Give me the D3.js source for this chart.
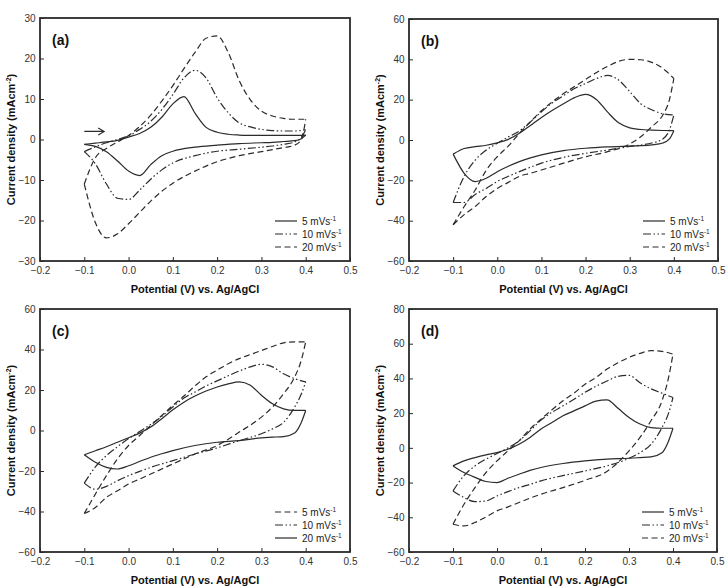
<!DOCTYPE html>
<html>
<head>
<meta charset="utf-8">
<script src="https://cdn.jsdelivr.net/npm/d3@7"></script>
<style>
  body { margin: 0; background: #fff; }
  svg { display: block; font-family: "Liberation Sans", Arial, sans-serif; }
</style>
</head>
<body>
<div id="chart"></div>
<script>
// potentials (V) of the forward and reverse sweeps
var E_FWD = [-0.1, -0.075, -0.05, -0.025, 0, 0.025, 0.05, 0.075, 0.1, 0.125, 0.15, 0.175, 0.2, 0.225, 0.25, 0.275, 0.3, 0.325, 0.35, 0.375, 0.4];
var E_REV = [0.4, 0.39, 0.375, 0.35, 0.325, 0.3, 0.25, 0.2, 0.15, 0.1, 0.075, 0.05, 0.025, 0, -0.025, -0.05, -0.075, -0.1];

// panel (a)
var a5Fwd  = [-1.2, -0.9, -0.6, -0.2, 0.6, 1.5, 3.0, 5.5, 8.8, 10.6, 6.5, 3.0, 1.8, 1.3, 1.1, 1.0, 1.0, 1.0, 1.0, 1.0, 1.1];
var a5Rev  = [1.1, 0.2, -0.3, -0.5, -0.7, -0.8, -1.0, -1.4, -1.9, -2.9, -4.0, -6.2, -8.9, -7.8, -5.3, -3.0, -1.7, -1.2];
var a10Fwd = [-3.0, -1.8, -0.8, 0.0, 0.9, 2.5, 4.5, 7.4, 11.1, 15.2, 17.1, 15.2, 10.3, 6.6, 4.1, 3.1, 2.5, 2.2, 2.1, 2.1, 2.4];
var a10Rev = [2.4, 0.5, -0.6, -1.2, -1.6, -1.9, -2.4, -2.9, -4.0, -5.8, -7.5, -9.8, -12.5, -14.8, -14.5, -11.0, -6.0, -3.0];
var a20Fwd = [-11.0, -4.5, -2.2, -0.6, 1.0, 3.2, 6.0, 9.5, 13.3, 17.5, 21.5, 25.0, 25.6, 21.5, 14.5, 9.8, 7.0, 5.8, 5.2, 5.0, 5.0];
var a20Rev = [5.0, 0.0, -1.4, -2.0, -2.5, -3.0, -4.0, -5.5, -7.8, -10.8, -12.8, -15.2, -18.0, -20.8, -23.3, -24.3, -20.5, -11.0];

// panel (b)
var b5Fwd  = [-7.0, -4.2, -3.3, -2.6, -1.4, 0.3, 3.3, 7.2, 11.2, 14.8, 18.0, 21.0, 22.6, 20.0, 13.8, 8.5, 6.0, 5.2, 4.9, 4.7, 4.6];
var b5Rev  = [4.6, 0.5, -1.5, -2.4, -2.8, -3.0, -3.4, -4.1, -5.3, -7.4, -8.9, -10.7, -13.0, -15.7, -19.0, -20.6, -16.5, -7.0];
var b10Fwd = [-31, -18, -10, -5, -1.6, 1.5, 4.5, 9, 14, 18.5, 22, 25.5, 28, 30.5, 32, 29.7, 24, 18, 15, 13, 12.4];
var b10Rev = [12.4, 5, 0.5, -1.5, -2.5, -3.2, -5.0, -6.6, -8.6, -11.5, -13.5, -15.7, -18, -20.6, -24, -27, -31, -31];
var b20Fwd = [-42, -33, -24.8, -15, -8.3, -3.0, 3.3, 9, 14.5, 19, 23, 26.5, 30, 33.5, 36.5, 39, 40, 39.8, 38.5, 35.5, 30.5];
var b20Rev = [30.5, 20, 12.4, 6.6, 1.6, -2.0, -5.8, -8.3, -11.5, -14.9, -16.5, -18, -21, -24, -28, -33, -37, -42];

// panel (c)
var c20Fwd = [-12, -10, -8, -5.8, -3.6, -1.3, 1.7, 5.8, 10.2, 14, 17, 19.5, 21.5, 23, 24, 22.3, 17.4, 13.2, 10.7, 9.9, 9.9];
var c20Rev = [9.9, 4, -1.2, -3, -3.3, -3.6, -5, -5.8, -7.4, -9.9, -11.5, -13.2, -15.3, -17.4, -19, -18.2, -15.7, -12];
var c10Fwd = [-26, -18, -12.4, -8, -4, -0.5, 3, 7, 11.6, 16, 19, 22, 24.5, 27, 29.4, 31.4, 32.7, 31.4, 28, 25.6, 24];
var c10Rev = [24, 18, 11.6, 4, 0.8, -1.6, -5, -8.6, -11.6, -14.9, -16.5, -18.2, -20.2, -22.3, -24.8, -27.6, -29, -26];
var c5Fwd  = [-41, -31.4, -22.3, -14, -7.4, -2.5, 2.5, 7.4, 12.4, 17, 22, 26.5, 29.8, 33, 35.5, 37.5, 39.5, 41.5, 43.3, 43.8, 43.8];
var c5Rev  = [43.8, 34.7, 26.4, 18.2, 11.6, 6.6, -0.8, -7.4, -11.6, -16.5, -19, -21.5, -24, -26.4, -29.8, -33, -38, -41];

// panel (d)
var d5Fwd  = [-10.4, -7.5, -5.6, -4, -2.7, -0.8, 2.1, 6, 10.8, 14.6, 18.5, 21.3, 24.2, 26.9, 27.6, 22.8, 17.5, 13.7, 11.7, 11.3, 11.3];
var d5Rev  = [11.3, 4, -2.8, -5.2, -5.6, -6, -6.5, -7.5, -9, -11.3, -13, -15.2, -17.5, -20, -19.4, -17, -14.2, -10.4];
var d10Fwd = [-24.8, -16, -10.4, -6.5, -3.3, 0, 4, 9.8, 16, 20.5, 24.2, 28, 32, 35.5, 38.5, 41.2, 41.8, 37.5, 34, 31.5, 29];
var d10Rev = [29, 20, 11.7, 2, -2.7, -6, -10.4, -13.3, -16, -19, -21, -22.9, -25.2, -27.7, -30.6, -31, -28.7, -24.8];
var d20Fwd = [-44, -32.5, -22.9, -14.2, -7.5, -1.7, 4, 10.8, 16.5, 22, 27.1, 31.5, 36.7, 40.5, 45.4, 49, 52.1, 54.4, 56, 55.6, 54];
var d20Rev = [54, 40.6, 27.1, 15.6, 6, -1.7, -13.6, -18.7, -22.9, -26.7, -29, -31.5, -34, -36.3, -39.8, -43, -45, -44];

var X_TICKS = [-0.2, -0.1, 0.0, 0.1, 0.2, 0.3, 0.4, 0.5];
var Y_TICKS_A = [-30, -20, -10, 0, 10, 20, 30];
var Y_TICKS_BC = [-60, -40, -20, 0, 20, 40, 60];
var Y_TICKS_D = [-60, -40, -20, 0, 20, 40, 60, 80];

var DASH = { solid: null, dashdot: "8,2.5,1.5,2.5,1.5,2.5", dash: "6,3.5" };
var INK = "#2b2b2b";

var panels = [
  { label: "(a)", left: 40, top: 18, w: 310, h: 243, y: [-30, 30], yt: Y_TICKS_A, arrow: true,
    series: [
      { name: "5", style: "solid", f: a5Fwd, r: a5Rev },
      { name: "10", style: "dashdot", f: a10Fwd, r: a10Rev },
      { name: "20", style: "dash", f: a20Fwd, r: a20Rev }] },
  { label: "(b)", left: 409, top: 19, w: 309, h: 242, y: [-60, 60], yt: Y_TICKS_BC,
    series: [
      { name: "5", style: "solid", f: b5Fwd, r: b5Rev },
      { name: "10", style: "dashdot", f: b10Fwd, r: b10Rev },
      { name: "20", style: "dash", f: b20Fwd, r: b20Rev }] },
  { label: "(c)", left: 40, top: 309, w: 310, h: 243, y: [-60, 60], yt: Y_TICKS_BC,
    series: [
      { name: "5", style: "dash", f: c5Fwd, r: c5Rev },
      { name: "10", style: "dashdot", f: c10Fwd, r: c10Rev },
      { name: "20", style: "solid", f: c20Fwd, r: c20Rev }] },
  { label: "(d)", left: 409, top: 309, w: 308, h: 243, y: [-60, 80], yt: Y_TICKS_D,
    series: [
      { name: "5", style: "solid", f: d5Fwd, r: d5Rev },
      { name: "10", style: "dashdot", f: d10Fwd, r: d10Rev },
      { name: "20", style: "dash", f: d20Fwd, r: d20Rev }] }
];

var svg = d3.select("#chart").append("svg")
    .attr("width", 727)
    .attr("height", 588);

panels.forEach(function(p) {
    var g = svg.append("g").attr("transform", "translate(" + p.left + "," + p.top + ")");
    var x = d3.scaleLinear().domain([-0.2, 0.5]).range([0, p.w]);
    var y = d3.scaleLinear().domain(p.y).range([p.h, 0]);

    // axes with inward ticks
    var xa = g.append("g")
        .attr("transform", "translate(0," + p.h + ")")
        .call(d3.axisBottom(x).tickValues(X_TICKS).tickFormat(d3.format(".1f")).tickSizeInner(-4).tickSizeOuter(0).tickPadding(6));
    var ya = g.append("g")
        .call(d3.axisLeft(y).tickValues(p.yt).tickFormat(d3.format("d")).tickSizeInner(-4).tickSizeOuter(0).tickPadding(4.5));
    [xa, ya].forEach(function(a) {
        a.select(".domain").remove();
        a.selectAll("line").attr("stroke", INK);
        a.selectAll("text").attr("fill", "#333").style("font-size", "10px")
            .style("font-family", "'Liberation Sans', Arial, sans-serif");
    });

    g.append("rect")
        .attr("width", p.w).attr("height", p.h)
        .attr("fill", "none").attr("stroke", INK).attr("stroke-width", 1.8);

    var line = d3.line()
        .curve(d3.curveMonotoneX)
        .x(function(d) { return x(d[0]); })
        .y(function(d) { return y(d[1]); });

    p.series.forEach(function(s) {
        var fwd = E_FWD.map(function(e, i) { return [e, s.f[i]]; });
        // reverse sweep drawn with rising x so the monotone curve stays smooth
        var rev = E_REV.map(function(e, i) { return [e, s.r[i]]; }).reverse();
        [fwd, rev].forEach(function(pts) {
            g.append("path")
                .attr("d", line(pts))
                .attr("fill", "none")
                .attr("stroke", INK)
                .attr("stroke-width", 1.2)
                .attr("stroke-dasharray", DASH[s.style]);
        });
    });

    // panel letter
    g.append("text")
        .attr("x", 12).attr("y", 27)
        .attr("fill", "#111")
        .style("font-size", "14px").style("font-weight", "bold")
        .text(p.label);

    // legend
    var lg = g.append("g").attr("transform", "translate(" + (p.w - 75) + "," + (p.h - 40) + ")");
    p.series.forEach(function(s, i) {
        var row = lg.append("g").attr("transform", "translate(0," + (i * 13) + ")");
        row.append("line")
            .attr("x1", 0).attr("x2", 22)
            .attr("stroke", INK).attr("stroke-width", 1.2)
            .attr("stroke-dasharray", DASH[s.style]);
        var t = row.append("text")
            .attr("x", 27).attr("y", 3.5)
            .attr("fill", "#222")
            .style("font-size", "10px");
        t.append("tspan").text(s.name + " mVs");
        t.append("tspan").attr("dy", -4).style("font-size", "6.5px").text("-1");
    });

    // axis titles
    g.append("text")
        .attr("x", p.w / 2).attr("y", p.h + 32)
        .attr("text-anchor", "middle")
        .attr("fill", "#111")
        .style("font-size", "11px").style("font-weight", "bold")
        .text("Potential (V) vs. Ag/AgCl");

    var yt = g.append("text")
        .attr("transform", "translate(" + (-25) + "," + (p.h / 2) + ") rotate(-90)")
        .attr("text-anchor", "middle")
        .attr("fill", "#111")
        .style("font-size", "11px").style("font-weight", "bold");
    yt.append("tspan").text("Current density (mAcm");
    yt.append("tspan").attr("dy", -4.5).style("font-size", "7px").text("-2");
    yt.append("tspan").attr("dy", 4.5).text(")");

    if (p.arrow) {
        var ax0 = x(-0.1), ax1 = x(-0.055), ay = y(2);
        g.append("path")
            .attr("d", "M" + ax0 + "," + ay + "H" + ax1 + "M" + (ax1 - 6) + "," + (ay - 3.5) + "L" + ax1 + "," + ay + "L" + (ax1 - 6) + "," + (ay + 3.5))
            .attr("fill", "none").attr("stroke", INK).attr("stroke-width", 1.1);
    }
});
</script>
</body>
</html>
